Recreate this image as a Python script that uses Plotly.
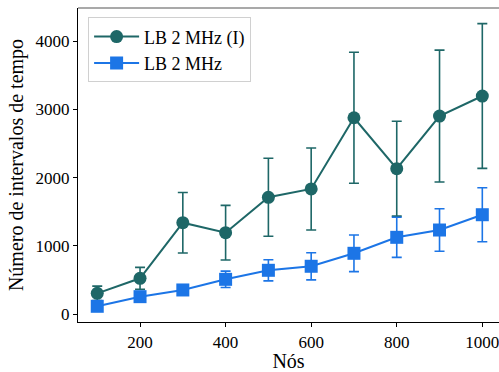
import plotly.graph_objects as go

nodes = [100, 200, 300, 400, 500, 600, 700, 800, 900, 1000]
lb_i_mean = [307, 527, 1341, 1195, 1713, 1835, 2878, 2132, 2903, 3196]
lb_i_err = [105, 160, 443, 400, 571, 600, 960, 694, 965, 1060]
lb_mean = [117, 258, 356, 512, 644, 703, 893, 1127, 1234, 1458]
lb_err = [55, 65, 75, 120, 155, 199, 268, 293, 312, 395]

teal = "#1e6767"
blue = "#1c75e6"
font = "Liberation Serif, Times New Roman, serif"

fig = go.Figure()
fig.add_trace(go.Scatter(
    x=nodes, y=lb_i_mean, name="LB 2 MHz (I)", mode="lines+markers",
    line=dict(color=teal, width=2),
    marker=dict(symbol="circle", size=13, color=teal),
    error_y=dict(type="data", array=lb_i_err, color=teal, thickness=1.6, width=5),
))
fig.add_trace(go.Scatter(
    x=nodes, y=lb_mean, name="LB 2 MHz", mode="lines+markers",
    line=dict(color=blue, width=2),
    marker=dict(symbol="square", size=13, color=blue),
    error_y=dict(type="data", array=lb_err, color=blue, thickness=1.6, width=5),
))

fig.update_layout(
    width=499, height=372,
    margin=dict(l=78, r=0, t=8, b=50),
    paper_bgcolor="white", plot_bgcolor="white",
    font=dict(family=font, size=17, color="black"),
    showlegend=True,
    legend=dict(x=0.024, y=0.97, xanchor="left", yanchor="top",
                bgcolor="rgba(255,255,255,0.8)", bordercolor="#d0d0d0", borderwidth=1,
                font=dict(family=font, size=18), tracegroupgap=0, itemwidth=45),
    xaxis=dict(range=[55, 1039], tickvals=[200, 400, 600, 800, 1000], automargin=False,
               ticklabeloverflow="allow",
               showgrid=False, zeroline=False, showline=True, linecolor="black", linewidth=1.2,
               ticks="outside", ticklen=4, tickcolor="black",
               title=dict(text="Nós", font=dict(family=font, size=20), standoff=1)),
    yaxis=dict(range=[-113, 4485], tickvals=[0, 1000, 2000, 3000, 4000], automargin=False,
               showgrid=False, zeroline=False, showline=True, linecolor="black", linewidth=1.2,
               ticks="outside", ticklen=4, tickcolor="black",
               title=dict(text="Número de intervalos de tempo", font=dict(family=font, size=20), standoff=6)),
)
fig.add_shape(type="line", xref="paper", yref="paper", x0=0, x1=1, y0=1, y1=1,
              line=dict(color="#555555", width=1.2))

fig.write_html("out.html", config={"displayModeBar": False},
               post_script="document.body.style.margin='0';document.body.style.padding='0';")
